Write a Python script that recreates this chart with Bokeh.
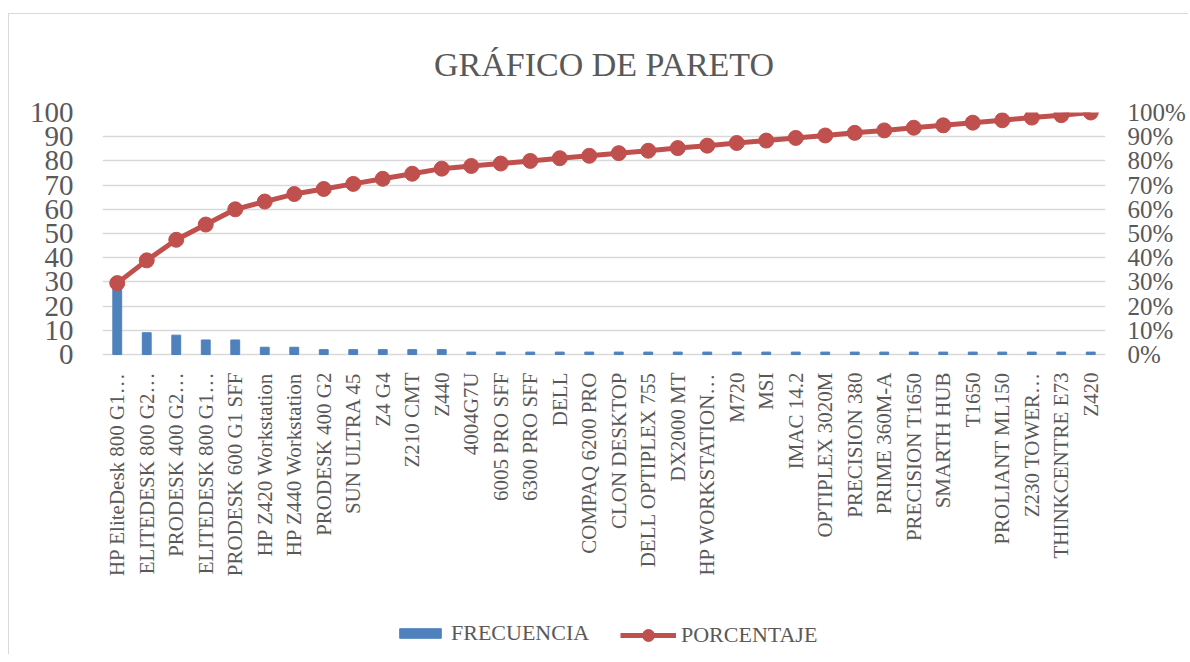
from math import pi
from bokeh.plotting import figure
from bokeh.models import (Range1d, LinearAxis, FactorRange, FixedTicker, LabelSet,
                          NumeralTickFormatter, Legend, LegendItem, ColumnDataSource)
from bokeh.core.properties import value
from bokeh.embed import file_html
from bokeh.resources import INLINE

categories = [
    "HP EliteDesk 800 G1…", "ELITEDESK 800 G2…", "PRODESK 400 G2…", "ELITEDESK 800 G1…",
    "PRODESK 600 G1 SFF", "HP Z420 Workstation", "HP Z440 Workstation", "PRODESK 400 G2",
    "SUN ULTRA 45", "Z4 G4", "Z210 CMT", "Z440", "4004G7U", "6005 PRO SFF", "6300 PRO SFF",
    "DELL", "COMPAQ 6200 PRO", "CLON DESKTOP", "DELL OPTIPLEX 755", "DX2000 MT",
    "HP WORKSTATION…", "M720", "MSI", "IMAC 14.2", "OPTIPLEX 3020M", "PRECISION 380",
    "PRIME 360M-A", "PRECISION T1650", "SMARTH HUB", "T1650", "PROLIANT ML150",
    "Z230 TOWER…", "THINKCENTRE E73", "Z420",
]
frecuencia = [28, 9, 8, 6, 6, 3, 3, 2, 2, 2, 2, 2,
              1, 1, 1, 1, 1, 1, 1, 1, 1, 1, 1, 1, 1, 1, 1, 1, 1, 1, 1, 1, 1, 1]
porcentaje = [29.5, 38.9, 47.4, 53.7, 60.0, 63.2, 66.3, 68.4, 70.5, 72.6, 74.7, 76.8,
              77.9, 78.9, 80.0, 81.1, 82.1, 83.2, 84.2, 85.3, 86.3, 87.4, 88.4, 89.5,
              90.5, 91.6, 92.6, 93.7, 94.7, 95.8, 96.8, 97.9, 98.9, 100.0]
left_ticks = [0, 10, 20, 30, 40, 50, 60, 70, 80, 90, 100]
right_ticks = [0, 0.1, 0.2, 0.3, 0.4, 0.5, 0.6, 0.7, 0.8, 0.9, 1.0]

TXT = "#595959"
FONT = "Liberation Serif"
BLUE = "#4f81bd"
RED = "#c0504d"
GRID = "#d9d9d9"

# layout: value area is 242 px tall; the frame extends 300 px further down
# to hold the category labels and the legend
PLOT_H = 242
EXTRA_H = 300
low = -100.0 * EXTRA_H / PLOT_H

src = ColumnDataSource(dict(cat=categories, f=frecuencia,
                            p=[v / 100.0 for v in porcentaje],
                            zero=[0] * len(categories)))

p = figure(frame_width=1003, frame_height=PLOT_H + EXTRA_H,
           x_range=FactorRange(*categories, range_padding=0),
           y_range=Range1d(low, 100), output_backend="svg", toolbar_location=None,
           x_axis_location=None,
           min_border_left=93, min_border_right=78, min_border_top=98,
           min_border_bottom=0, title="GRÁFICO DE PARETO")
p.styles = {"border-left": "1px solid #d9d9d9", "border-top": "1px solid #d9d9d9",
            "margin-top": "13px", "margin-left": "8px"}
p.outline_line_color = None
p.background_fill_color = "white"
p.border_fill_color = "white"

p.title.align = "center"
p.title.text_font = FONT
p.title.text_font_size = "34px"
p.title.text_font_style = "normal"
p.title.text_color = TXT
p.title.standoff = 59

p.extra_y_ranges = {"pct": Range1d(low / 100.0, 1)}

bars = p.vbar(x="cat", top="f", width=0.3, source=src, color=BLUE)
line = p.line(x="cat", y="p", source=src, y_range_name="pct", color=RED, line_width=5)
dots = p.scatter(x="cat", y="p", source=src, y_range_name="pct", size=15,
                 fill_color=RED, line_color=RED)


def clean(ax):
    ax.major_tick_line_color = None
    ax.minor_tick_line_color = None
    ax.major_tick_out = 0
    ax.major_tick_in = 0
    ax.minor_tick_out = 0
    ax.minor_tick_in = 0
    ax.axis_label_standoff = 0
    ax.major_label_text_color = TXT
    ax.major_label_text_font = FONT


# left axis
ya = p.yaxis[0]
ya.ticker = FixedTicker(ticks=left_ticks)
ya.axis_line_color = None
clean(ya)
ya.major_label_text_font_size = "29px"
ya.major_label_standoff = 29

# right axis
ra = LinearAxis(y_range_name="pct", ticker=FixedTicker(ticks=right_ticks),
                formatter=NumeralTickFormatter(format="0%"))
ra.axis_line_color = None
clean(ra)
ra.major_label_text_font_size = "25px"
ra.major_label_standoff = 22
p.add_layout(ra, "right")

p.xgrid.grid_line_color = None
p.ygrid.grid_line_color = GRID
p.ygrid.grid_line_width = 1.5

# category labels (vertical, reading bottom to top)
cat_labels = LabelSet(x="cat", y="zero", text="cat", source=src, angle=pi / 2,
                      y_offset=-18, text_align="right", text_baseline="middle",
                      text_font=value(FONT), text_font_size="21px", text_color=TXT)
p.add_layout(cat_labels)


def make_legend(item, loc, gw, gh):
    lg = Legend(items=[item], orientation="horizontal", location=loc)
    lg.label_text_font = FONT
    lg.label_text_font_size = "22px"
    lg.label_text_color = TXT
    lg.glyph_width = gw
    lg.glyph_height = gh
    lg.label_standoff = 5
    lg.border_line_color = None
    lg.background_fill_alpha = 0
    lg.margin = 0
    lg.padding = 4
    return lg


leg1 = make_legend(LegendItem(label="FRECUENCIA", renderers=[bars]), (292, 8), 52, 12)
leg2 = make_legend(LegendItem(label="PORCENTAJE", renderers=[line, dots]), (518, 4), 56, 30)
p.add_layout(leg1, "center")
p.add_layout(leg2, "center")

open("out.html", "w").write(file_html(p, INLINE))
